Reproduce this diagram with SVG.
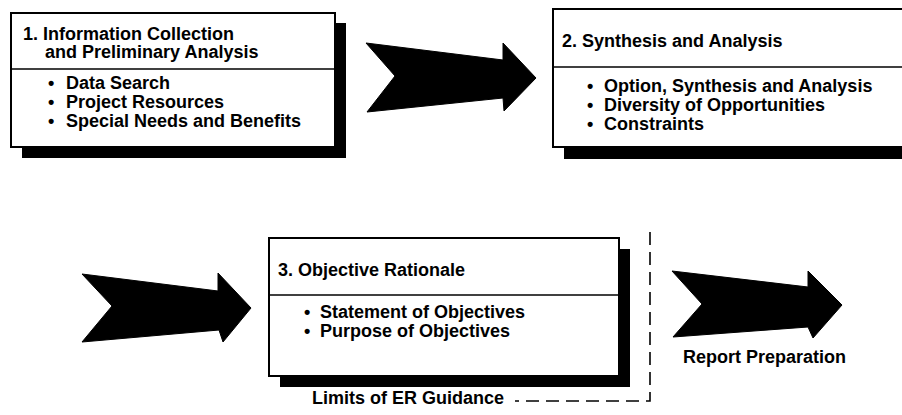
<svg xmlns="http://www.w3.org/2000/svg" width="902" height="415" viewBox="0 0 902 415">
<style>
  text { font-family: "Liberation Sans", Arial, Helvetica, sans-serif; font-weight: bold; font-size: 18px; fill: #000; }
  .shadow { fill: #000; }
  .box { fill: #fff; stroke: #000; stroke-width: 2; }
  .div { stroke: #000; stroke-width: 1.5; fill: none; }
  .arrow { fill: #000; stroke: #000; stroke-width: 1; stroke-linejoin: miter; }
  .limit { fill: none; stroke: #000; stroke-width: 1.6; stroke-dasharray: 13 7; }
</style>
<rect width="902" height="415" fill="#fff"/>

<g id="node1">
  <rect class="shadow" x="22" y="23" width="324" height="135"/>
  <rect class="box" x="11" y="13" width="324" height="134"/>
  <line class="div" x1="11" y1="69" x2="335" y2="69"/>
  <text x="23" y="40">1. Information Collection</text>
  <text x="45" y="58">and Preliminary Analysis</text>
  <text x="48" y="89">•<tspan x="66">Data Search</tspan></text>
  <text x="48" y="108">•<tspan x="66">Project Resources</tspan></text>
  <text x="48" y="127">•<tspan x="66">Special Needs and Benefits</tspan></text>
</g>

<g id="node2">
  <rect class="shadow" x="564" y="19" width="360" height="140"/>
  <rect class="box" x="553" y="9" width="360" height="138"/>
  <line class="div" x1="553" y1="67" x2="913" y2="67"/>
  <text x="562" y="47">2. Synthesis and Analysis</text>
  <text x="587" y="92">•<tspan x="604">Option, Synthesis and Analysis</tspan></text>
  <text x="587" y="111">•<tspan x="604">Diversity of Opportunities</tspan></text>
  <text x="587" y="130">•<tspan x="604">Constraints</tspan></text>
</g>

<g id="node3">
  <rect class="shadow" x="280" y="249" width="350" height="138"/>
  <rect class="box" x="269" y="238" width="350" height="138"/>
  <line class="div" x1="269" y1="295" x2="619" y2="295"/>
  <text x="278" y="276">3. Objective Rationale</text>
  <text x="304" y="318">•<tspan x="320">Statement of Objectives</tspan></text>
  <text x="304" y="337">•<tspan x="320">Purpose of Objectives</tspan></text>
</g>

<g id="limits">
  <path class="limit" d="M650,232 V401 H515"/>
  <text x="312" y="404">Limits of ER Guidance</text>
</g>

<g id="connectors">
  <polygon class="arrow" points="366,43 503,60 503,43 536,78 504,111 503,98 367,112 395,76"/>
  <polygon class="arrow" points="82,274 218,291 218,273 251,308 223,342 219,330 82,342 112,306"/>
  <polygon class="arrow" points="672,271 808,287 808,271 842,305 813,338 808,327 673,337 702,304"/>
  <text x="683" y="363">Report Preparation</text>
</g>
</svg>
